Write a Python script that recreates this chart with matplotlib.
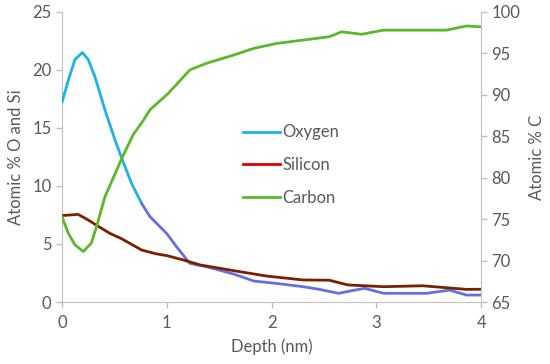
import matplotlib
matplotlib.use("Agg")
import matplotlib.pyplot as plt
from matplotlib.lines import Line2D

plt.rcParams['font.family'] = ['Lato', 'DejaVu Sans']

# Data (depth in nm)
oxy_x = [0.0, 0.06, 0.124, 0.194, 0.25, 0.315, 0.41, 0.506, 0.57, 0.665, 0.76, 0.84, 1.0, 1.09, 1.22, 1.38, 1.64, 1.83, 2.05, 2.30, 2.45, 2.64, 2.78, 2.89, 3.07, 3.48, 3.70, 3.86, 4.0]
oxy_y = [17.2, 19.1, 20.9, 21.5, 20.9, 19.4, 16.55, 13.97, 12.4, 10.2, 8.5, 7.35, 5.9, 4.8, 3.33, 3.04, 2.41, 1.81, 1.6, 1.32, 1.1, 0.75, 1.0, 1.18, 0.75, 0.75, 1.03, 0.6, 0.6]

si_x = [0.0, 0.155, 0.25, 0.35, 0.46, 0.57, 0.76, 0.9, 1.0, 1.16, 1.32, 1.64, 1.95, 2.30, 2.55, 2.73, 3.07, 3.44, 3.86, 4.0]
si_y = [7.45, 7.55, 7.07, 6.5, 5.9, 5.45, 4.48, 4.15, 4.0, 3.62, 3.19, 2.7, 2.24, 1.9, 1.88, 1.47, 1.32, 1.4, 1.09, 1.1]

c_x = [0.0, 0.06, 0.124, 0.203, 0.28, 0.33, 0.41, 0.57, 0.68, 0.76, 0.84, 1.0, 1.09, 1.22, 1.38, 1.64, 1.83, 2.05, 2.30, 2.55, 2.67, 2.86, 3.07, 3.48, 3.67, 3.86, 4.0]
c_y = [75.3, 73.3, 71.9, 71.1, 72.1, 74.1, 77.7, 82.3, 85.2, 86.6, 88.2, 90.0, 91.2, 93.0, 93.8, 94.8, 95.6, 96.2, 96.6, 97.0, 97.6, 97.3, 97.8, 97.8, 97.8, 98.3, 98.2]

labels = ["Oxygen", "Silicon", "Carbon"]
xticks = [0, 1, 2, 3, 4]
yticks_left = [0, 5, 10, 15, 20, 25]
yticks_right = [65, 70, 75, 80, 85, 90, 95, 100]

grey = "#595959"
spine_c = "#BFBFBF"
c_oxy = "#1DB3E3"
c_oxy2 = "#6470E0"
c_si_line = "#7A2000"
c_si_leg = "#E00000"
c_c = "#5CB82A"
fs = 12

fig = plt.figure(figsize=(5.5, 3.64), dpi=100)
ax = fig.add_axes([0.1127, 0.1703, 0.762, 0.797])
ax2 = ax.twinx()

# Oxygen drawn in two tones like the reference
split = 10
ax.plot(oxy_x[:split + 1], oxy_y[:split + 1], color=c_oxy, lw=2, solid_capstyle="round", zorder=3)
ax.plot(oxy_x[split:], oxy_y[split:], color=c_oxy2, lw=2, solid_capstyle="round", zorder=3)
ax.plot(si_x, si_y, color=c_si_line, lw=2, zorder=4)
ax2.plot(c_x, c_y, color=c_c, lw=2)

ax.set_xlim(0, 4)
ax.set_ylim(0, 25)
ax2.set_ylim(65, 100)
ax.set_xticks(xticks)
ax.set_yticks(yticks_left)
ax2.set_yticks(yticks_right)

for a in (ax, ax2):
    for s in a.spines.values():
        s.set_color(spine_c)
    a.spines["top"].set_visible(False)
    a.tick_params(colors=spine_c, labelcolor=grey, labelsize=fs, length=4, width=1)
ax.tick_params(axis="x", pad=5)
ax.spines["right"].set_visible(False)
ax2.spines["left"].set_visible(False)
ax2.spines["bottom"].set_visible(False)

ax.set_xlabel("Depth (nm)", color=grey, fontsize=fs, labelpad=6)
ax.set_ylabel("Atomic % O and Si", color=grey, fontsize=fs, labelpad=6)
ax2.set_ylabel("Atomic % C", color=grey, fontsize=fs, labelpad=6)

handles = [Line2D([], [], color=c_oxy, lw=2),
           Line2D([], [], color=c_si_leg, lw=2),
           Line2D([], [], color=c_c, lw=2)]
leg = ax2.legend(handles, labels, loc="center left", bbox_to_anchor=(0.432, 0.472),
                 frameon=False, fontsize=fs, handlelength=2.2, handletextpad=0.15,
                 labelspacing=1.0, labelcolor=grey, borderpad=0, borderaxespad=0)

fig.savefig("out.png", dpi=100)
